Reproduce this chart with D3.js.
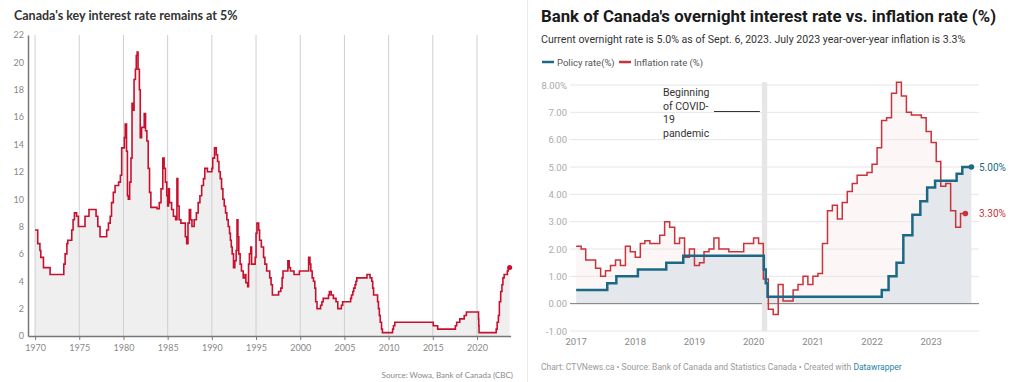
<!DOCTYPE html>
<html>
<head>
<meta charset="utf-8">
<script src="https://cdn.jsdelivr.net/npm/d3@7"></script>
<style>
  body { margin: 0; background: #fff; }
  svg { display: block; }
</style>
</head>
<body>
<div id="chart"></div>
<script>
var width = 1024, height = 382;

// ---- left chart: Canada's key interest rate, [year, %] (step after) ----
var keyRate = [
  [1970.0, 7.75], [1970.3, 6.75], [1970.55, 6.25], [1970.65, 5.75], [1970.95, 5.0],
  [1971.7, 4.5], [1973.25, 5.25], [1973.4, 6.0], [1973.6, 6.75], [1973.7, 7.0],
  [1974.15, 7.75], [1974.3, 8.5], [1974.45, 9.0], [1974.7, 8.75], [1974.9, 8.0],
  [1975.65, 8.75], [1976.1, 9.25], [1976.9, 8.75], [1977.1, 8.0], [1977.35, 7.25],
  [1978.1, 7.75], [1978.3, 8.25], [1978.5, 8.75], [1978.65, 9.75], [1978.85, 10.5],
  [1979.05, 11.0], [1979.45, 11.25], [1979.65, 11.75], [1979.8, 13.75], [1980.1, 14.5],
  [1980.2, 15.5], [1980.35, 13.5], [1980.45, 10.25], [1980.55, 10.0], [1980.7, 11.25],
  [1980.85, 13.0], [1980.97, 17.0], [1981.09, 16.5], [1981.2, 18.75], [1981.35, 19.5],
  [1981.45, 20.5], [1981.55, 20.75], [1981.65, 19.5], [1981.8, 18.0], [1981.9, 14.5],
  [1982.05, 15.25], [1982.35, 16.25], [1982.5, 15.0], [1982.65, 14.25], [1982.8, 12.25],
  [1982.95, 10.5], [1983.1, 9.4], [1983.8, 9.3], [1984.05, 9.75], [1984.25, 10.75],
  [1984.45, 13.0], [1984.6, 12.25], [1984.75, 11.25], [1984.9, 10.25], [1985.0, 9.5],
  [1985.1, 10.75], [1985.2, 9.75], [1985.45, 9.25], [1985.65, 8.75], [1985.9, 8.5],
  [1986.05, 11.5], [1986.15, 9.5], [1986.3, 8.5], [1986.5, 8.25], [1987.0, 7.25],
  [1987.15, 6.75], [1987.3, 8.25], [1987.45, 9.25], [1987.6, 8.5], [1987.75, 8.0],
  [1988.0, 8.5], [1988.25, 9.0], [1988.45, 9.75], [1988.65, 10.25], [1988.85, 11.0],
  [1989.05, 11.5], [1989.2, 12.25], [1989.5, 12.0], [1990.0, 12.25], [1990.1, 13.0],
  [1990.3, 13.75], [1990.5, 13.25], [1990.65, 12.75], [1990.8, 12.0], [1990.95, 11.5],
  [1991.1, 10.75], [1991.25, 10.0], [1991.4, 9.5], [1991.55, 9.0], [1991.7, 8.5],
  [1991.85, 8.0], [1992.0, 7.5], [1992.1, 7.0], [1992.2, 6.5], [1992.3, 6.0],
  [1992.45, 5.0], [1992.6, 5.5], [1992.75, 6.25], [1992.85, 8.5], [1992.95, 7.25],
  [1993.05, 6.0], [1993.2, 5.25], [1993.35, 4.75], [1993.55, 4.25], [1993.75, 4.5],
  [1993.85, 3.9], [1994.05, 3.6], [1994.15, 5.25], [1994.25, 6.0], [1994.4, 6.5],
  [1994.5, 5.25], [1994.9, 5.75], [1995.0, 7.5], [1995.1, 8.25], [1995.3, 7.75],
  [1995.4, 7.0], [1995.6, 6.5], [1995.85, 5.75], [1996.0, 5.25], [1996.2, 4.75],
  [1996.55, 4.25], [1996.7, 3.75], [1996.85, 3.0], [1997.55, 3.25], [1997.8, 3.5],
  [1997.95, 4.25], [1998.05, 4.75], [1998.6, 5.5], [1998.75, 5.0], [1998.9, 4.75],
  [1999.3, 4.5], [1999.9, 4.75], [2000.95, 5.75], [2001.1, 5.25], [2001.2, 4.75],
  [2001.35, 4.25], [2001.5, 4.0], [2001.65, 3.5], [2001.75, 2.5], [2001.9, 2.0],
  [2002.3, 2.25], [2002.45, 2.5], [2002.6, 2.75], [2003.2, 3.0], [2003.3, 3.25],
  [2003.5, 3.0], [2003.75, 2.75], [2004.05, 2.5], [2004.25, 2.0], [2004.65, 2.25],
  [2004.8, 2.5], [2005.7, 2.75], [2005.8, 3.0], [2005.95, 3.25], [2006.05, 3.5],
  [2006.2, 3.75], [2006.3, 4.0], [2006.4, 4.25], [2007.55, 4.5], [2007.9, 4.25],
  [2008.1, 4.0], [2008.2, 3.5], [2008.3, 3.0], [2008.75, 2.5], [2008.85, 2.0],
  [2008.95, 1.5], [2009.05, 1.0], [2009.2, 0.5], [2009.3, 0.25], [2010.45, 0.5],
  [2010.55, 0.75], [2010.7, 1.0], [2015.05, 0.75], [2015.55, 0.5], [2017.55, 0.75],
  [2017.7, 1.0], [2018.05, 1.25], [2018.55, 1.5], [2018.8, 1.75], [2020.17, 1.25],
  [2020.2, 0.75], [2020.23, 0.25], [2022.17, 0.5], [2022.28, 1.0], [2022.42, 1.5],
  [2022.53, 2.5], [2022.68, 3.25], [2022.82, 3.75], [2022.93, 4.25], [2023.07, 4.5],
  [2023.43, 4.75], [2023.53, 5.0], [2023.7, 5.0]
];
var keyYearTicks = [1970, 1975, 1980, 1985, 1990, 1995, 2000, 2005, 2010, 2015, 2020];
var keyValueTicks = [0, 2, 4, 6, 8, 10, 12, 14, 16, 18, 20, 22];

// ---- right chart: policy rate vs inflation ----
var policyDates = ["2017-01-01", "2017-07-12", "2017-09-06", "2018-01-17", "2018-07-11",
  "2018-10-24", "2020-03-04", "2020-03-16", "2020-03-27", "2022-03-02", "2022-04-13",
  "2022-06-01", "2022-07-13", "2022-09-07", "2022-10-26", "2022-12-07", "2023-01-25",
  "2023-06-07", "2023-07-12", "2023-09-06"];
var policyValues = [0.5, 0.75, 1.0, 1.25, 1.5, 1.75, 1.25, 0.75, 0.25, 0.5, 1.0,
  1.5, 2.5, 3.25, 3.75, 4.25, 4.5, 4.75, 5.0, 5.0];

var inflationStart = "2017-01-01";
var inflationValues = [
  2.1, 2.0, 1.6, 1.6, 1.3, 1.0, 1.2, 1.4, 1.6, 1.4, 2.1, 1.9,   // 2017
  1.7, 2.2, 2.3, 2.2, 2.2, 2.5, 3.0, 2.8, 2.2, 2.4, 1.7, 2.0,   // 2018
  1.4, 1.5, 1.9, 2.0, 2.4, 2.0, 2.0, 1.9, 1.9, 1.9, 2.2, 2.2,   // 2019
  2.4, 2.2, 0.9, -0.2, -0.4, 0.7, 0.1, 0.1, 0.5, 0.7, 1.0, 0.7, // 2020
  1.0, 1.1, 2.2, 3.4, 3.6, 3.1, 3.7, 4.1, 4.4, 4.7, 4.7, 4.8,   // 2021
  5.1, 5.7, 6.7, 6.8, 7.7, 8.1, 7.6, 7.0, 6.9, 6.9, 6.8, 6.3,   // 2022
  5.9, 5.2, 4.3, 4.4, 3.4, 2.8, 3.3                             // 2023
];
var rightYearTicks = [2017, 2018, 2019, 2020, 2021, 2022, 2023];
var rightValueTicks = [-1, 0, 1, 2, 3, 4, 5, 6, 7, 8];
var covidBand = ["2020-02-21", "2020-03-25"];

var parse = d3.timeParse("%Y-%m-%d");

var svg = d3.select("#chart").append("svg")
  .attr("width", width)
  .attr("height", height);

// ================= LEFT =================
var lf = "Lato, 'Open Sans', sans-serif";
var xL = d3.scaleLinear().domain([1969.2, 2023.8]).range([28, 510.6]);
var yL = d3.scaleLinear().domain([0, 22]).range([336, 35]);

svg.append("text")
  .attr("x", 14).attr("y", 20)
  .attr("font-family", lf).attr("font-weight", 700).attr("font-size", 12.5)
  .attr("fill", "#333")
  .text("Canada's key interest rate remains at 5%");

var areaL = d3.area()
  .x(function(d) { return xL(d[0]); })
  .y0(yL(0))
  .y1(function(d) { return yL(d[1]); })
  .curve(d3.curveStepAfter);
var lineL = d3.line()
  .x(function(d) { return xL(d[0]); })
  .y(function(d) { return yL(d[1]); })
  .curve(d3.curveStepAfter);

svg.append("path").datum(keyRate).attr("d", areaL).attr("fill", "#efefef");

svg.append("g").selectAll("line")
  .data(keyYearTicks).enter()
  .append("line")
  .attr("x1", function(d) { return xL(d); })
  .attr("x2", function(d) { return xL(d); })
  .attr("y1", yL(22)).attr("y2", yL(0))
  .attr("stroke", "#cfcfcf").attr("stroke-width", 1);

var axL = svg.append("g")
  .attr("transform", "translate(" + xL.range()[0] + ",0)")
  .call(d3.axisLeft(yL).tickValues(keyValueTicks).tickSize(0).tickSizeOuter(0).tickPadding(4));
axL.select(".domain").attr("stroke", "#777").attr("stroke-width", 1.5);
axL.selectAll("text").attr("font-family", lf).attr("font-size", 9).attr("fill", "#888");

var axB = svg.append("g")
  .attr("transform", "translate(0," + yL(0) + ")")
  .call(d3.axisBottom(xL).tickValues(keyYearTicks).tickFormat(d3.format("d"))
    .tickSize(4).tickSizeOuter(0).tickPadding(5));
axB.select(".domain").attr("stroke", "#777").attr("stroke-width", 1.5);
axB.selectAll(".tick line").attr("stroke", "#777");
axB.selectAll("text").attr("font-family", lf).attr("font-size", 9).attr("fill", "#888");

svg.append("path").datum(keyRate).attr("d", lineL)
  .attr("fill", "none").attr("stroke", "#c8102e").attr("stroke-width", 1.6);

var lastL = keyRate[keyRate.length - 1];
svg.append("circle")
  .attr("cx", xL(lastL[0])).attr("cy", yL(lastL[1])).attr("r", 2.5)
  .attr("fill", "#c8102e");

svg.append("text")
  .attr("x", 513).attr("y", 378)
  .attr("text-anchor", "end")
  .attr("font-family", lf).attr("font-size", 8).attr("fill", "#888")
  .text("Source: Wowa, Bank of Canada (CBC)");

// separator
svg.append("line")
  .attr("x1", 527.5).attr("x2", 527.5).attr("y1", 0).attr("y2", height)
  .attr("stroke", "#ececec");

// ================= RIGHT =================
var rf = "Roboto, 'Noto Sans', sans-serif";
var xR = d3.scaleTime()
  .domain([new Date(2016, 10, 24), new Date(2023, 9, 23)])
  .range([570, 979]);
var yR = d3.scaleLinear().domain([-1, 8]).range([331, 85]);

svg.append("text")
  .attr("x", 541).attr("y", 22)
  .attr("font-family", rf).attr("font-weight", 700).attr("font-size", 16.8)
  .attr("fill", "#1a1a1a")
  .text("Bank of Canada's overnight interest rate vs. inflation rate (%)");

svg.append("text")
  .attr("x", 541).attr("y", 43)
  .attr("font-family", rf).attr("font-size", 10.6).attr("fill", "#333")
  .text("Current overnight rate is 5.0% as of Sept. 6, 2023. July 2023 year-over-year inflation is 3.3%");

// legend
var legend = [
  { label: "Policy rate(%)", color: "#1b6985", x: 542 },
  { label: "Inflation rate (%)", color: "#c9333b", x: 619 }
];
var lg = svg.append("g").selectAll("g").data(legend).enter().append("g");
lg.append("line")
  .attr("x1", function(d) { return d.x; })
  .attr("x2", function(d) { return d.x + 12; })
  .attr("y1", 62).attr("y2", 62)
  .attr("stroke", function(d) { return d.color; }).attr("stroke-width", 2.5);
lg.append("text")
  .attr("x", function(d) { return d.x + 15; })
  .attr("y", 65.5)
  .attr("font-family", rf).attr("font-size", 9.5).attr("fill", "#555")
  .text(function(d) { return d.label; });

// data series
var policy = policyDates.map(function(d, i) { return { date: parse(d), value: policyValues[i] }; });
var inflation = inflationValues.map(function(v, i) {
  return { date: d3.timeMonth.offset(parse(inflationStart), i), value: v };
});
var inflationLast = inflation[inflation.length - 1];
// each monthly value holds through the end of its month
var inflationSteps = inflation.concat([{
  date: d3.timeDay.offset(d3.timeMonth.offset(inflationLast.date, 1), -1),
  value: inflationLast.value
}]);

var areaR = d3.area()
  .x(function(d) { return xR(d.date); })
  .y0(yR(0))
  .y1(function(d) { return yR(d.value); })
  .curve(d3.curveStepAfter);
var lineR = d3.line()
  .x(function(d) { return xR(d.date); })
  .y(function(d) { return yR(d.value); })
  .curve(d3.curveStepAfter);

svg.append("path").datum(inflationSteps).attr("d", areaR).attr("fill", "#fdf6f6");
svg.append("path").datum(policy).attr("d", areaR).attr("fill", "#e4e8ec");

// gridlines + y labels
var gy = svg.append("g").selectAll("g").data(rightValueTicks).enter().append("g");
gy.append("line")
  .attr("x1", 570).attr("x2", 979)
  .attr("y1", function(d) { return yR(d); })
  .attr("y2", function(d) { return yR(d); })
  .attr("stroke", function(d) { return d === 0 ? "#777" : "#e6e6e6"; })
  .attr("stroke-width", 1);
gy.append("text")
  .attr("x", 567)
  .attr("y", function(d) { return yR(d) + 3.5; })
  .attr("text-anchor", "end")
  .attr("font-family", rf).attr("font-size", 9.5).attr("fill", "#aaa")
  .text(function(d) { return d === 8 ? d3.format(".2f")(d) + "%" : d3.format(".2f")(d).replace("\u2212", "-"); });

// covid band
svg.append("rect")
  .attr("x", xR(parse(covidBand[0])))
  .attr("width", xR(parse(covidBand[1])) - xR(parse(covidBand[0])))
  .attr("y", yR(8.1)).attr("height", yR(-1) - yR(8.1))
  .attr("fill", "#e6e6e6");

// x labels
svg.append("g").selectAll("text").data(rightYearTicks).enter()
  .append("text")
  .attr("x", function(d) { return xR(new Date(d, 0, 1)); })
  .attr("y", 345)
  .attr("text-anchor", "middle")
  .attr("font-family", rf).attr("font-size", 9.5).attr("fill", "#888")
  .text(function(d) { return d; });

// lines
svg.append("path").datum(inflationSteps).attr("d", lineR)
  .attr("fill", "none").attr("stroke", "#c9333b").attr("stroke-width", 1.5);
svg.append("path").datum(policy).attr("d", lineR)
  .attr("fill", "none").attr("stroke", "#1b6985").attr("stroke-width", 2.5);

var policyLast = policy[policy.length - 1];
var inflEnd = inflationSteps[inflationSteps.length - 1];
svg.append("circle").attr("cx", xR(policyLast.date)).attr("cy", yR(policyLast.value))
  .attr("r", 2.8).attr("fill", "#1b6985");
svg.append("circle").attr("cx", xR(inflEnd.date)).attr("cy", yR(inflEnd.value))
  .attr("r", 2.8).attr("fill", "#c9333b");
svg.append("text").attr("x", 979).attr("y", yR(policyLast.value) + 4)
  .attr("font-family", rf).attr("font-size", 10).attr("fill", "#1b6985")
  .text(d3.format(".2f")(policyLast.value) + "%");
svg.append("text").attr("x", 979).attr("y", yR(inflEnd.value) + 4)
  .attr("font-family", rf).attr("font-size", 10).attr("fill", "#c9333b")
  .text(d3.format(".2f")(inflEnd.value) + "%");

// covid annotation
var note = ["Beginning", "of COVID-", "19", "pandemic"];
svg.append("g").selectAll("text").data(note).enter()
  .append("text")
  .attr("x", 663)
  .attr("y", function(d, i) { return 96 + i * 13.5; })
  .attr("font-family", rf).attr("font-size", 10.5).attr("fill", "#333")
  .text(function(d) { return d; });
svg.append("line")
  .attr("x1", 714).attr("x2", xR(parse(covidBand[0])) - 2)
  .attr("y1", 111.5).attr("y2", 111.5)
  .attr("stroke", "#333").attr("stroke-width", 1);

// footer
var foot = svg.append("text")
  .attr("x", 541).attr("y", 370)
  .attr("font-family", rf).attr("font-size", 8.5).attr("fill", "#999");
foot.append("tspan").text("Chart: CTVNews.ca \u2022 Source: Bank of Canada and Statistics Canada \u2022 Created with ");
foot.append("tspan").attr("fill", "#1f83a8").text("Datawrapper");
</script>
</body>
</html>
